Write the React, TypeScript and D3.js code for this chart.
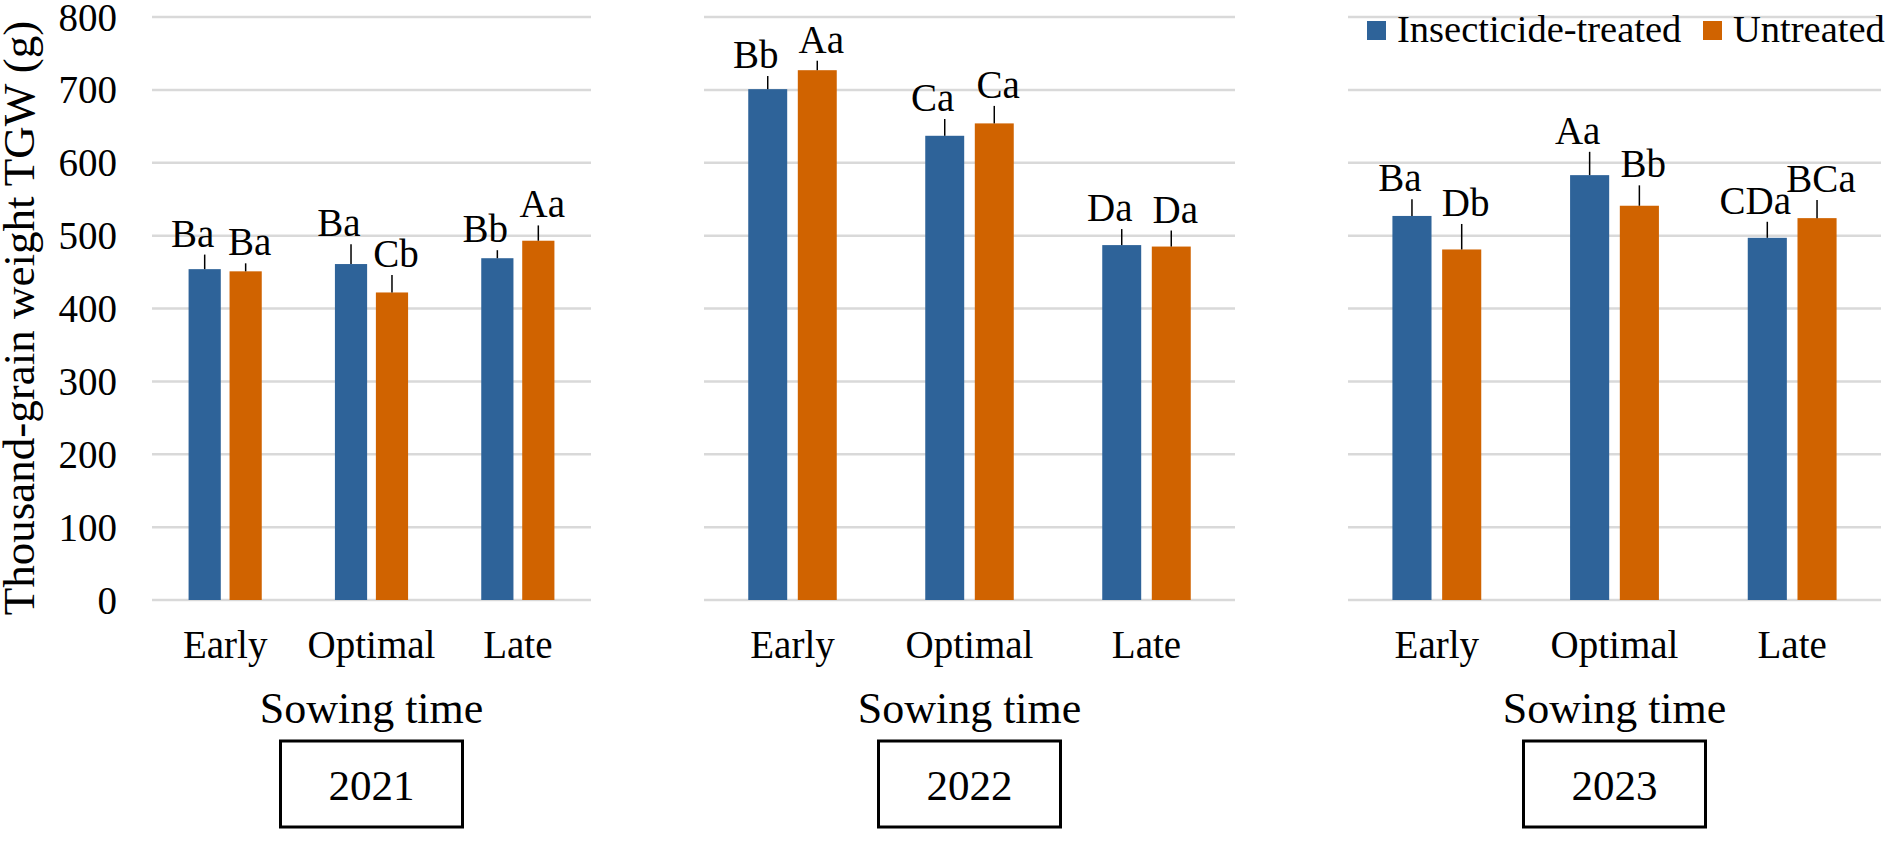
import React, { useEffect } from 'react';
import * as d3 from 'd3';

// Thousand-grain weight by sowing time, three seasons
const years = ['2021', '2022', '2023'];
const sowingTimes = ['Early', 'Optimal', 'Late'];
const seriesNames = ['Insecticide-treated', 'Untreated'];

const treatedTGW = [
  [454, 461, 469],
  [701, 637, 487],
  [527, 583, 497],
];
const untreatedTGW = [
  [451, 422, 493],
  [727, 654, 485],
  [481, 541, 524],
];
const treatedErr = [
  [20, 27, 11],
  [18, 23, 22],
  [23, 32, 22],
];
const untreatedErr = [
  [11, 24, 21],
  [13, 24, 22],
  [35, 28, 25],
];
const treatedLetters = [
  ['Ba', 'Ba', 'Bb'],
  ['Bb', 'Ca', 'Da'],
  ['Ba', 'Aa', 'CDa'],
];
const untreatedLetters = [
  ['Ba', 'Cb', 'Aa'],
  ['Aa', 'Ca', 'Da'],
  ['Db', 'Bb', 'BCa'],
];
const yTicks = [0, 100, 200, 300, 400, 500, 600, 700, 800];

const W = 1890;
const H = 850;
const FONT = 'Liberation Serif, Times New Roman, DejaVu Serif, serif';
const COLORS = ['#2e6399', '#d06300'];
// label nudges: treated labels sit a bit left, untreated a bit right
const LABEL_DX = [-12, 4];

// panel extents (plot area of each year)
const panelX: [number, number][] = [
  [152, 591],
  [704, 1235],
  [1348, 1881],
];

export default function App() {
  useEffect(() => {
    document.body.style.margin = '0';
  }, []);

  const y = d3.scaleLinear().domain([0, 800]).range([600, 17]);

  const panels = years.map((year, pi) => {
    const x0 = d3
      .scaleBand<string>()
      .domain(sowingTimes)
      .range(panelX[pi])
      .paddingInner(0.5)
      .paddingOuter(0.25);
    const x1 = d3
      .scaleBand<string>()
      .domain(seriesNames)
      .range([0, x0.bandwidth()])
      .paddingInner(0.214);
    const vals = [treatedTGW[pi], untreatedTGW[pi]];
    const errs = [treatedErr[pi], untreatedErr[pi]];
    const letters = [treatedLetters[pi], untreatedLetters[pi]];
    const [left, right] = panelX[pi];
    const cx = (left + right) / 2;

    return (
      <g key={year}>
        {yTicks.map((t) => (
          <line
            key={t}
            x1={left}
            x2={right}
            y1={y(t)}
            y2={y(t)}
            stroke="#d9d9d9"
            strokeWidth={2.5}
          />
        ))}
        {sowingTimes.map((s, ci) => (
          <g key={s} transform={`translate(${x0(s)},0)`}>
            {seriesNames.map((name, si) => {
              const v = vals[si][ci];
              const e = errs[si][ci];
              const bx = x1(name)!;
              const bw = x1.bandwidth();
              return (
                <g key={name}>
                  <rect
                    x={bx}
                    y={y(v)}
                    width={bw}
                    height={y(0) - y(v)}
                    fill={COLORS[si]}
                  />
                  <line
                    x1={bx + bw / 2}
                    x2={bx + bw / 2}
                    y1={y(v)}
                    y2={y(v + e)}
                    stroke="#000"
                    strokeWidth={1.5}
                  />
                  <text
                    x={bx + bw / 2 + LABEL_DX[si]}
                    y={y(v + e) - 8}
                    textAnchor="middle"
                    fontSize={39}
                  >
                    {letters[si][ci]}
                  </text>
                </g>
              );
            })}
            <text x={x0.bandwidth() / 2} y={658} textAnchor="middle" fontSize={39}>
              {s}
            </text>
          </g>
        ))}
        <text x={cx} y={723} textAnchor="middle" fontSize={44}>
          Sowing time
        </text>
        <rect
          x={cx - 91}
          y={741}
          width={182}
          height={86}
          fill="none"
          stroke="#000"
          strokeWidth={3}
        />
        <text x={cx} y={800} textAnchor="middle" fontSize={43}>
          {year}
        </text>
      </g>
    );
  });

  // legend
  const legendItems = [
    { name: seriesNames[0], sx: 1367, tx: 1397 },
    { name: seriesNames[1], sx: 1703, tx: 1733 },
  ];

  return (
    <svg
      width={W}
      height={H}
      fontFamily={FONT}
      fill="#000"
      style={{ display: 'block', background: '#fff', fontFamily: FONT }}
    >
      <rect width={W} height={H} fill="#fff" />
      {yTicks.map((t) => (
        <text
          key={t}
          x={117}
          y={y(t)}
          textAnchor="end"
          dominantBaseline="central"
          fontSize={39}
        >
          {t}
        </text>
      ))}
      <text
        transform={`translate(34,${318}) rotate(-90)`}
        textAnchor="middle"
        fontSize={45}
      >
        Thousand-grain weight TGW (g)
      </text>
      {panels}
      {legendItems.map((d, i) => (
        <g key={d.name}>
          <rect x={d.sx} y={21} width={19} height={19} fill={COLORS[i]} />
          <text x={d.tx} y={42} fontSize={38.5}>
            {d.name}
          </text>
        </g>
      ))}
    </svg>
  );
}
